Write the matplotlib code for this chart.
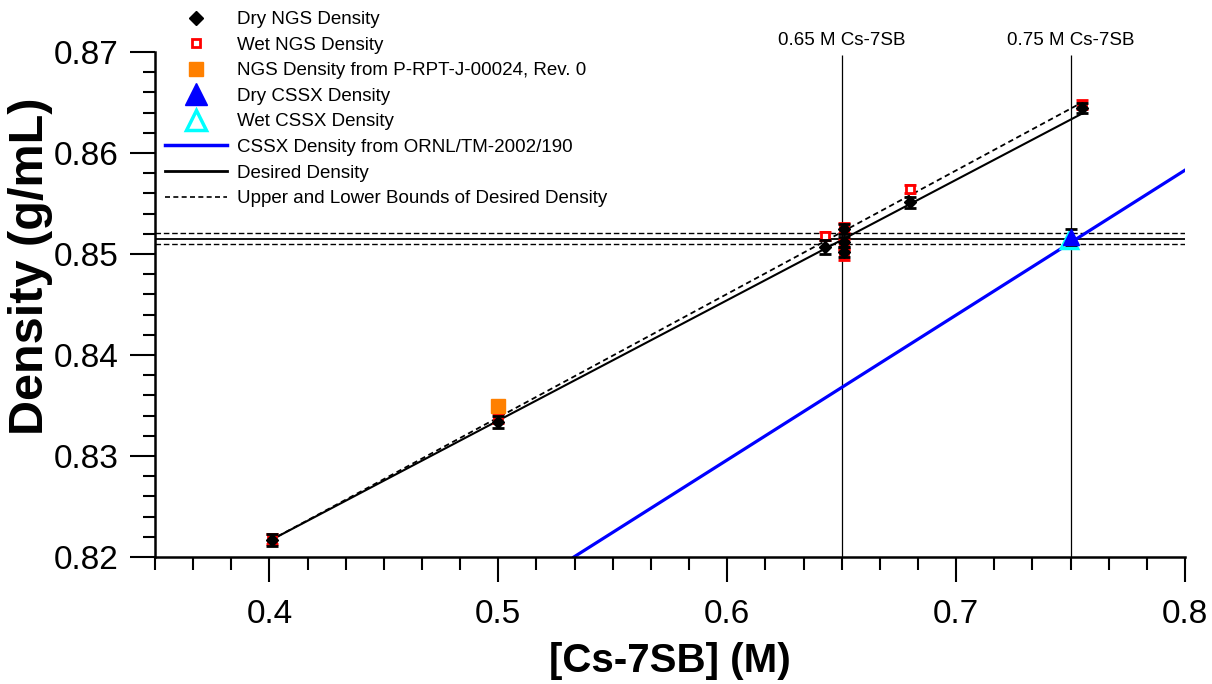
import matplotlib
matplotlib.use("Agg")
import matplotlib.pyplot as plt
from matplotlib.ticker import MultipleLocator, FormatStrFormatter
from matplotlib.lines import Line2D

plt.rcParams['font.family'] = ['Liberation Sans', 'DejaVu Sans']

# measured densities (g/mL) vs [Cs-7SB] (M)
dry_x = [0.401, 0.500, 0.6425, 0.651, 0.651, 0.651, 0.680, 0.755]
dry_y = [0.8217, 0.8334, 0.8507, 0.8525, 0.8512, 0.8502, 0.8551, 0.8645]
dry_err = [0.0006, 0.0006, 0.0007, 0.0005, 0.0005, 0.0005, 0.0005, 0.0005]

wet_x = [0.401, 0.500, 0.6425, 0.651, 0.651, 0.651, 0.680, 0.755]
wet_y = [0.8218, 0.8338, 0.8518, 0.8526, 0.8510, 0.8499, 0.8564, 0.8648]
wet_err = [0.0005, 0.0005, 0.0004, 0.0005, 0.0005, 0.0005, 0.0004, 0.0004]

ref_x = [0.500]
ref_y = [0.8350]

cssx_dry_x = [0.7503]
cssx_dry_y = [0.8517]
cssx_wet_x = [0.7492]
cssx_wet_y = [0.8514]
cssx_err = [0.0008]

# lines
cssx_line_x = [0.533, 0.80]
cssx_line_y = [0.8200, 0.8583]
desired_x = [0.400, 0.755]
desired_y = [0.8216, 0.8639]
upper_x = [0.400, 0.755]
upper_y = [0.8216, 0.8650]

target = 0.8515
bounds = [0.8510, 0.8521]
conc = [0.65, 0.75]
conc_labels = ["0.65 M Cs-7SB", "0.75 M Cs-7SB"]

fig = plt.figure(figsize=(12.12, 6.84), dpi=100)
ax = fig.add_axes([155/1212, 1 - 557/684, 1030/1212, 505/684])

ax.plot(cssx_line_x, cssx_line_y, color="#0000ff", lw=2.3, zorder=2)
ax.plot(desired_x, desired_y, color="black", lw=1.5, zorder=2)
ax.plot(upper_x, upper_y, color="black", lw=1.3, ls=(0, (3, 2)), zorder=2)

ax.axhline(target, color="black", lw=1.3, zorder=1)
for b in bounds:
    ax.axhline(b, color="black", lw=1.0, ls=(0, (4, 2)), zorder=1)

ax.vlines(conc, 0.82, 0.8697, color="black", lw=0.9, zorder=1)
for c, t in zip(conc, conc_labels):
    ax.text(c, 0.8711, t, ha="center", va="center", fontsize=13.5, clip_on=False)

ax.errorbar(wet_x, wet_y, yerr=wet_err, fmt="s", ms=6, mfc="white", mec="red",
            mew=2, ecolor="red", elinewidth=2.5, capsize=4, capthick=2, zorder=3)
ax.errorbar(dry_x, dry_y, yerr=dry_err, fmt="D", ms=6, color="black",
            ecolor="black", elinewidth=1.5, capsize=4, capthick=2, zorder=4)
ax.plot(ref_x, ref_y, "s", color="#ff8000", ms=10, zorder=5)
ax.errorbar(cssx_wet_x, cssx_wet_y, fmt="^", ms=12, mfc="white", mec="cyan",
            mew=2.5, zorder=4)
ax.errorbar(cssx_dry_x, cssx_dry_y, yerr=cssx_err, fmt="^", ms=11, color="#0000ff",
            ecolor="black", elinewidth=1.5, capsize=4, capthick=2, zorder=5)

ax.set_xlim(0.35, 0.8)
ax.set_ylim(0.82, 0.87)
ax.xaxis.set_major_locator(MultipleLocator(0.1))
ax.xaxis.set_minor_locator(MultipleLocator(0.1/6))
ax.yaxis.set_major_locator(MultipleLocator(0.01))
ax.yaxis.set_minor_locator(MultipleLocator(0.002))
ax.xaxis.set_major_formatter(FormatStrFormatter("%.1f"))
ax.yaxis.set_major_formatter(FormatStrFormatter("%.2f"))
ax.tick_params(which="major", direction="out", length=18, width=1.5, labelsize=24, pad=8)
ax.tick_params(axis="x", which="major", pad=12)
ax.tick_params(which="minor", direction="out", length=9, width=1.5)
for s in ["top", "right"]:
    ax.spines[s].set_visible(False)
for s in ["left", "bottom"]:
    ax.spines[s].set_linewidth(1.8)

ax.set_xlabel("[Cs-7SB] (M)", fontsize=29, fontweight="bold", labelpad=9)
ax.set_ylabel("Density (g/mL)", fontsize=35, fontweight="bold")
ax.yaxis.set_label_coords(-0.099, 0.576)

handles = [
    Line2D([], [], ls="none", marker="D", ms=7, color="black"),
    Line2D([], [], ls="none", marker="s", ms=6, mfc="white", mec="red", mew=2),
    Line2D([], [], ls="none", marker="s", ms=10, color="#ff8000"),
    Line2D([], [], ls="none", marker="^", ms=16, color="#0000ff"),
    Line2D([], [], ls="none", marker="^", ms=14, mfc="white", mec="cyan", mew=2.5),
    Line2D([], [], color="#0000ff", lw=2.5),
    Line2D([], [], color="black", lw=2),
    Line2D([], [], color="black", lw=1.2, ls=(0, (3, 2))),
]
labels = ["Dry NGS Density", "Wet NGS Density", "NGS Density from P-RPT-J-00024, Rev. 0",
          "Dry CSSX Density", "Wet CSSX Density", "CSSX Density from ORNL/TM-2002/190",
          "Desired Density", "Upper and Lower Bounds of Desired Density"]
fig.legend(handles, labels, loc="upper left", bbox_to_anchor=(165/1212, 1 - 11/684),
           frameon=False, fontsize=13.5, borderpad=0, borderaxespad=0,
           handlelength=3.3, handletextpad=0.55, labelspacing=0.45, numpoints=1)

fig.savefig("out.png", dpi=100)
